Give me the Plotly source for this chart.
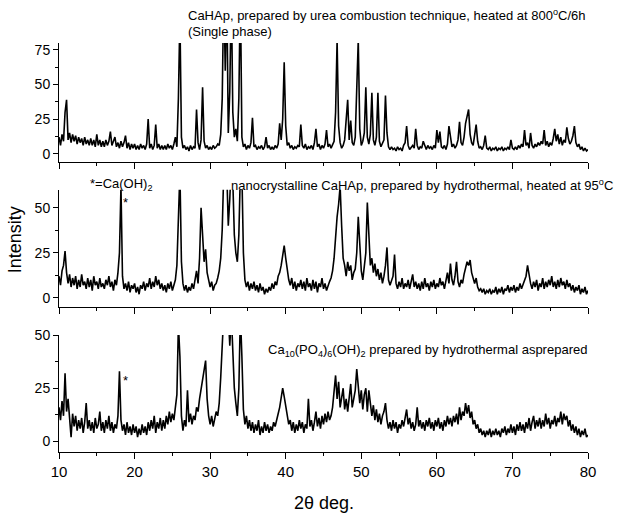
import plotly.graph_objects as go

# 2-theta grid: 10.0 to 80.0 in 0.2 deg steps
two_theta_start = 10.0
two_theta_step = 0.2

# Panel 1: CaHAp by urea combustion, heated 800C/6h (>80 clipped)
i_urea_800 = [
    12, 6, 14, 9, 30, 39, 10, 15, 8, 14,
    9, 13, 7, 12, 8, 11, 6, 12, 7, 10,
    6, 11, 6, 10, 5, 14, 6, 10, 5, 9,
    5, 10, 6, 9, 16, 6, 9, 12, 5, 8,
    4, 9, 5, 8, 13, 4, 8, 3, 7, 4,
    7, 3, 6, 3, 7, 4, 6, 3, 7, 25,
    4, 7, 3, 6, 21, 4, 7, 3, 6, 3,
    6, 3, 7, 4, 6, 3, 7, 12, 5, 40,
    100, 12, 4, 6, 3, 5, 2, 6, 3, 5,
    4, 32, 8, 3, 10, 48, 9, 4, 6, 3,
    5, 3, 6, 4, 5, 7, 6, 14, 40, 120,
    60, 120, 15, 45, 120, 30, 12, 18, 9, 40,
    120, 12, 5, 7, 3, 6, 4, 8, 26, 5,
    6, 3, 5, 4, 6, 3, 5, 12, 4, 6,
    3, 5, 3, 6, 4, 7, 22, 10, 25, 66,
    20, 6, 8, 4, 6, 3, 5, 4, 6, 5,
    21, 6, 4, 7, 3, 5, 4, 6, 3, 8,
    18, 5, 7, 3, 6, 4, 7, 17, 5, 7,
    4, 6, 9, 30, 82, 20, 8, 4, 6, 10,
    25, 39, 10, 24, 8, 6, 12, 45, 82, 18,
    6, 9, 15, 48, 12, 7, 14, 44, 10, 6,
    12, 44, 9, 5, 7, 10, 42, 15, 5, 3,
    5, 3, 4, 2, 5, 3, 4, 2, 6, 8,
    20, 6, 3, 5, 6, 4, 18, 6, 3, 5,
    4, 9, 5, 3, 6, 4, 5, 3, 6, 4,
    17, 8, 16, 5, 4, 6, 3, 7, 20, 14,
    5, 7, 4, 6, 10, 23, 8, 6, 12, 22,
    28, 32, 14, 8, 6, 12, 21, 9, 4, 5,
    3, 6, 13, 4, 3, 5, 2, 4, 3, 5,
    2, 4, 3, 5, 2, 4, 3, 5, 3, 10,
    4, 3, 5, 3, 6, 4, 7, 5, 17, 6,
    8, 4, 15, 6, 4, 7, 5, 8, 6, 9,
    7, 17, 6, 9, 5, 8, 6, 11, 18, 9,
    14, 7, 12, 6, 10, 8, 19, 11, 7, 9,
    13, 20, 8, 5, 7, 3, 5, 2, 4, 2,
    3,
]

# Panel 2: nanocrystalline CaHAp, hydrothermal, heated 95C (>60 clipped)
i_hydro_95 = [
    12, 7, 15, 18, 26, 14, 8, 13, 6, 11,
    7, 12, 5, 10, 6, 13, 7, 9, 5, 11,
    6, 10, 4, 12, 7, 9, 5, 11, 6, 8,
    5, 10, 7, 12, 6, 9, 4, 10, 7, 14,
    25, 62, 12, 5, 8, 4, 9, 3, 7, 5,
    8, 3, 6, 2, 7, 5, 9, 4, 8, 6,
    11, 5, 9, 6, 12, 7, 10, 5, 8, 4,
    7, 3, 8, 5, 9, 4, 7, 10, 18, 45,
    70, 20, 8, 4, 7, 3, 6, 4, 8, 5,
    10, 15, 8, 22, 50, 30, 20, 27, 14, 10,
    6, 9, 4, 7, 8, 11, 15, 22, 38, 70,
    75, 70, 40, 55, 75, 65, 35, 25, 20, 35,
    70, 70, 25, 10, 6, 9, 4, 8, 5, 9,
    4, 7, 3, 8, 4, 6, 2, 5, 3, 6,
    4, 8, 5, 9, 7, 12, 14, 18, 24, 29,
    22, 15, 10, 7, 11, 5, 9, 4, 8, 6,
    10, 5, 9, 4, 11, 6, 8, 4, 10, 5,
    9, 3, 8, 6, 11, 5, 8, 4, 7, 9,
    11, 15, 22, 35, 45, 52, 62, 40, 22, 18,
    12, 20, 15, 18, 10, 14, 16, 25, 45, 30,
    15, 10, 18, 25, 53, 35, 18, 22, 14, 19,
    12, 16, 10, 14, 8, 12, 18, 28, 10, 7,
    9, 12, 24, 8, 5, 9, 6, 11, 5, 8,
    6, 10, 5, 9, 13, 6, 9, 5, 8, 4,
    9, 5, 11, 6, 8, 4, 9, 6, 10, 5,
    8, 6, 11, 7, 9, 5, 10, 14, 8, 19,
    10, 7, 12, 20, 9, 6, 10, 8, 13, 16,
    20, 18, 21, 14, 10, 8, 11, 6, 4, 5,
    3, 5, 2, 4, 3, 5, 2, 4, 3, 6,
    2, 5, 3, 6, 2, 5, 4, 7, 3, 6,
    4, 7, 3, 6, 4, 8, 5, 7, 9, 12,
    18, 12, 8, 5, 9, 6, 10, 4, 8, 6,
    11, 5, 9, 6, 10, 7, 12, 6, 9, 5,
    10, 6, 11, 7, 9, 5, 10, 6, 8, 4,
    7, 3, 6, 4, 7, 2, 5, 3, 6, 2,
    4,
]

# Panel 3: Ca10(PO4)6(OH)2 hydrothermal, as prepared (>50 clipped)
i_hydro_asprep = [
    16, 10, 19, 12, 32, 14, 20, 9, 2, 13,
    7, 12, 5, 10, 6, 11, 4, 9, 18, 6,
    10, 5, 9, 4, 11, 6, 8, 14, 5, 9,
    4, 10, 6, 12, 5, 9, 4, 8, 6, 12,
    33, 10, 5, 8, 3, 9, 4, 7, 3, 8,
    4, 7, 2, 6, 3, 8, 4, 7, 3, 9,
    5, 10, 6, 12, 4, 9, 6, 11, 5, 10,
    6, 12, 8, 14, 9, 13, 10, 16, 22, 55,
    40, 12, 5, 10, 7, 24, 9, 13, 8, 12,
    10, 16, 14, 20, 24, 28, 32, 38, 20, 12,
    8, 12, 7, 11, 14, 12, 18, 30, 60, 60,
    60, 55, 60, 45, 60, 45, 25, 18, 12, 25,
    60, 40, 15, 8, 12, 6, 10, 5, 9, 4,
    8, 5, 10, 3, 7, 4, 9, 5, 8, 4,
    7, 5, 9, 7, 11, 13, 16, 20, 25, 21,
    16, 12, 8, 10, 5, 9, 4, 8, 5, 10,
    6, 9, 4, 8, 6, 20, 7, 10, 5, 9,
    14, 7, 11, 6, 12, 8, 13, 9, 14, 10,
    12, 16, 22, 31, 20, 28, 16, 22, 25, 15,
    20, 14, 22, 27, 16, 20, 24, 34, 26, 18,
    24, 15, 22, 25, 14, 24, 18, 12, 17, 10,
    15, 9, 13, 8, 12, 14, 18, 10, 6, 9,
    5, 10, 6, 9, 4, 8, 6, 10, 7, 12,
    15, 8, 11, 6, 9, 5, 8, 16, 7, 10,
    6, 9, 5, 10, 7, 11, 6, 9, 5, 10,
    7, 11, 6, 9, 5, 10, 7, 12, 8, 11,
    7, 12, 9, 13, 8, 16, 10, 14, 12, 18,
    13, 17, 11, 14, 8, 10, 6, 8, 4, 6,
    3, 5, 2, 5, 3, 6, 2, 5, 3, 6,
    3, 5, 2, 6, 4, 7, 3, 6, 4, 8,
    4, 7, 3, 8, 5, 9, 5, 8, 4, 9,
    6, 11, 5, 9, 12, 6, 10, 7, 11, 6,
    10, 7, 13, 8, 11, 6, 10, 8, 12, 7,
    11, 9, 14, 8, 13, 10, 12, 7, 10, 5,
    8, 4, 7, 3, 6, 2, 5, 3, 6, 2,
    3,
]

x_ticks = [10, 20, 30, 40, 50, 60, 70, 80]

series = [i_urea_800, i_hydro_95, i_hydro_asprep]

FONT = "Liberation Sans, Arial, sans-serif"
fig = go.Figure()
axes = [("x", "y"), ("x2", "y2"), ("x3", "y3")]
for s, (xa, ya) in zip(series, axes):
    xs = [round(two_theta_start + two_theta_step * k, 1) for k in range(len(s))]
    fig.add_trace(go.Scatter(x=xs, y=s, mode="lines", xaxis=xa, yaxis=ya,
                             line=dict(color="black", width=1.6), showlegend=False,
                             hoverinfo="skip"))

def xax(anchor, labels):
    return dict(domain=[0, 1], anchor=anchor, range=[10, 80], showline=True,
                linecolor="black", linewidth=1, ticks="outside", ticklen=6,
                tickcolor="black", tickvals=x_ticks, showticklabels=labels,
                showgrid=False, zeroline=False,
                minor=dict(ticks="outside", ticklen=3, tickcolor="black",
                           tickvals=[15, 25, 35, 45, 55, 65, 75]),
                tickfont=dict(family=FONT, size=15, color="black"))

def yax(anchor, dom, rng, tv, mv):
    return dict(domain=dom, anchor=anchor, range=rng, showline=True,
                linecolor="black", linewidth=1, ticks="outside", ticklen=5,
                tickcolor="black", tickvals=tv, showgrid=False, zeroline=False,
                minor=dict(ticks="outside", ticklen=3, tickcolor="black", tickvals=mv),
                tickfont=dict(family=FONT, size=14, color="black"))

ann_font = dict(family=FONT, size=13, color="black")
annotations = [
    dict(x=0.240, y=1.068, text="CaHAp, prepared by urea combustion technique, heated at 800<sup>o</sup>C/6h"),
    dict(x=0.240, y=1.029, text="(Single phase)"),
    dict(x=0.055, y=0.653, text="*=Ca(OH)<sub>2</sub>"),
    dict(x=0.321, y=0.653, text="nanocrystalline CaHAp, prepared by hydrothermal, heated at 95<sup>o</sup>C"),
    dict(x=0.118, y=0.611, text="*"),
    dict(x=0.391, y=0.249, text="Ca<sub>10</sub>(PO<sub>4</sub>)<sub>6</sub>(OH)<sub>2</sub> prepared by hydrothermal asprepared"),
    dict(x=0.118, y=0.176, text="*"),
]
for a in annotations:
    a.update(xref="paper", yref="paper", xanchor="left", yanchor="middle",
             showarrow=False, font=ann_font)
annotations.append(dict(x=-0.083, y=0.518, xref="paper", yref="paper", text="Intensity",
                        textangle=-90, showarrow=False, xanchor="center", yanchor="middle",
                        font=dict(family=FONT, size=18, color="black")))
annotations.append(dict(x=0.501, y=-0.125, xref="paper", yref="paper", text="2θ deg.",
                        showarrow=False, xanchor="center", yanchor="middle",
                        font=dict(family=FONT, size=18, color="black")))

fig.update_layout(
    width=627, height=514,
    margin=dict(l=59, r=39, t=43, b=62),
    paper_bgcolor="white", plot_bgcolor="white",
    xaxis=xax("y", False),
    xaxis2=xax("y2", False),
    xaxis3=xax("y3", True),
    yaxis=yax("x", [0.709, 1.0], [-6, 80], [0, 25, 50, 75], [12.5, 37.5, 62.5]),
    yaxis2=yax("x2", [0.355, 0.641], [-5, 60], [0, 25, 50], [12.5, 37.5]),
    yaxis3=yax("x3", [0.0, 0.286], [-5, 50], [0, 25, 50], [12.5, 37.5]),
    annotations=annotations,
    showlegend=False,
)

fig.write_html("out.html")
